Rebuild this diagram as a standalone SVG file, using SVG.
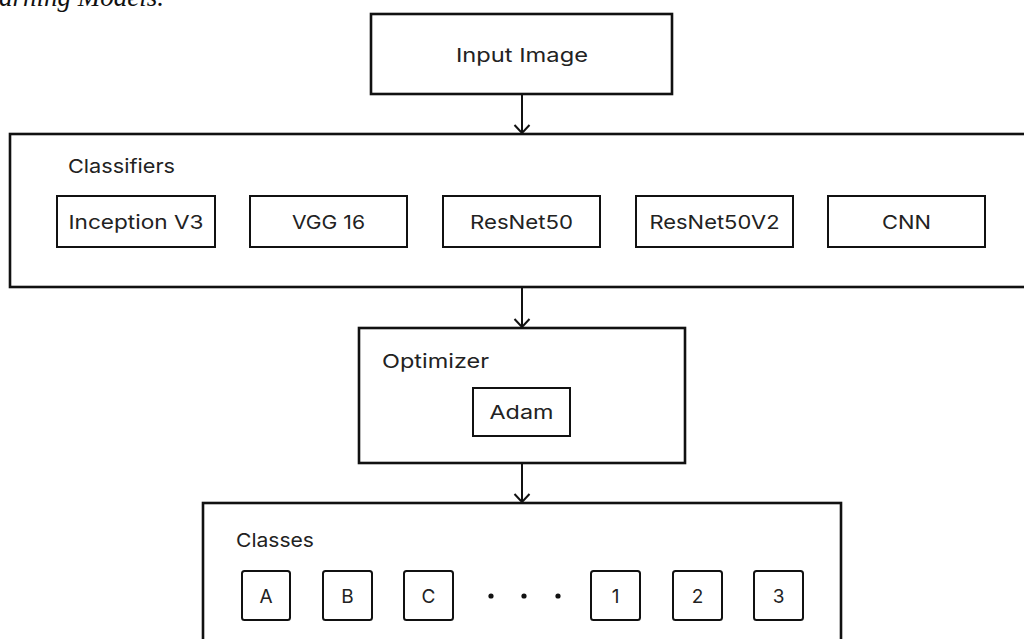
<svg xmlns="http://www.w3.org/2000/svg" width="1024" height="639" viewBox="0 0 1024 639">
  <style>
    .label { font-family: "Inter", "Noto Sans", "DejaVu Sans", sans-serif; font-size: 19px; fill: #222; }
    .mid { text-anchor: middle; }
    .outer { fill: #fff; stroke: #111; stroke-width: 2.6; }
    .inner { fill: #fff; stroke: #111; stroke-width: 2; }
    .cls { fill: #fff; stroke: #111; stroke-width: 2; }
    .conn { stroke: #111; stroke-width: 2; fill: none; }
    .caption { font-family: "Liberation Serif", "Times New Roman", serif; font-style: italic; font-size: 27px; fill: #111; }
  </style>
  <defs>
    <marker id="arrow" markerUnits="userSpaceOnUse" markerWidth="20" markerHeight="20" viewBox="-10 -10 20 20" refX="0" refY="0" orient="auto">
      <path d="M -8 -7.5 L 0 0 L -8 7.5" fill="none" stroke="#111" stroke-width="2"/>
    </marker>
  </defs>

  <rect width="1024" height="639" fill="#fff"/>

  <!-- caption fragment along the top edge -->
  <text class="caption" x="-1" y="6">arning Models.</text>

  <g id="input-image">
    <rect class="outer" x="371" y="14" width="301" height="80"/>
    <text class="label mid" x="522" y="62" textLength="132" lengthAdjust="spacingAndGlyphs">Input Image</text>
  </g>

  <g id="classifiers">
    <rect class="outer" x="10" y="134" width="1030" height="153"/>
    <text class="label" x="68" y="173" textLength="107" lengthAdjust="spacingAndGlyphs">Classifiers</text>
    <g id="inception-v3">
      <rect class="inner" x="57" y="196" width="158" height="51"/>
      <text class="label mid" x="136" y="229" textLength="135" lengthAdjust="spacingAndGlyphs">Inception V3</text>
    </g>
    <g id="vgg16">
      <rect class="inner" x="250" y="196" width="157" height="51"/>
      <text class="label mid" x="328.5" y="229" textLength="73" lengthAdjust="spacingAndGlyphs">VGG 16</text>
    </g>
    <g id="resnet50">
      <rect class="inner" x="443" y="196" width="157" height="51"/>
      <text class="label mid" x="521.5" y="229" textLength="103" lengthAdjust="spacingAndGlyphs">ResNet50</text>
    </g>
    <g id="resnet50v2">
      <rect class="inner" x="636" y="196" width="157" height="51"/>
      <text class="label mid" x="714.5" y="229" textLength="130" lengthAdjust="spacingAndGlyphs">ResNet50V2</text>
    </g>
    <g id="cnn">
      <rect class="inner" x="828" y="196" width="157" height="51"/>
      <text class="label mid" x="906.5" y="229" textLength="49" lengthAdjust="spacingAndGlyphs">CNN</text>
    </g>
  </g>

  <g id="optimizer">
    <rect class="outer" x="359" y="328" width="326" height="135"/>
    <text class="label" x="382" y="368" textLength="107" lengthAdjust="spacingAndGlyphs">Optimizer</text>
    <g id="adam">
      <rect class="inner" x="473" y="388" width="97" height="48"/>
      <text class="label mid" x="521.5" y="419" textLength="64" lengthAdjust="spacingAndGlyphs">Adam</text>
    </g>
  </g>

  <g id="classes">
    <rect class="outer" x="203" y="503" width="638" height="160"/>
    <text class="label" x="236" y="547" textLength="78" lengthAdjust="spacingAndGlyphs">Classes</text>
    <g id="class-a"><rect class="cls" x="242" y="571" width="48" height="49" rx="2.5"/><text class="label mid" x="266" y="603">A</text></g>
    <g id="class-b"><rect class="cls" x="323" y="571" width="49" height="49" rx="2.5"/><text class="label mid" x="347.5" y="603">B</text></g>
    <g id="class-c"><rect class="cls" x="404" y="571" width="49" height="49" rx="2.5"/><text class="label mid" x="428.5" y="603">C</text></g>
    <g id="ellipsis" fill="#111">
      <circle cx="491" cy="596" r="2.6"/>
      <circle cx="524" cy="596" r="2.6"/>
      <circle cx="558" cy="596" r="2.6"/>
    </g>
    <g id="class-1"><rect class="cls" x="591" y="571" width="49" height="49" rx="2.5"/><text class="label mid" x="615.5" y="603">1</text></g>
    <g id="class-2"><rect class="cls" x="673" y="571" width="49" height="49" rx="2.5"/><text class="label mid" x="697.5" y="603">2</text></g>
    <g id="class-3"><rect class="cls" x="754" y="571" width="49" height="49" rx="2.5"/><text class="label mid" x="778.5" y="603">3</text></g>
  </g>

  <g id="connectors">
    <line class="conn" x1="522" y1="95" x2="522" y2="133" marker-end="url(#arrow)"/>
    <line class="conn" x1="522" y1="288" x2="522" y2="327" marker-end="url(#arrow)"/>
    <line class="conn" x1="522" y1="464" x2="522" y2="502" marker-end="url(#arrow)"/>
  </g>
</svg>
